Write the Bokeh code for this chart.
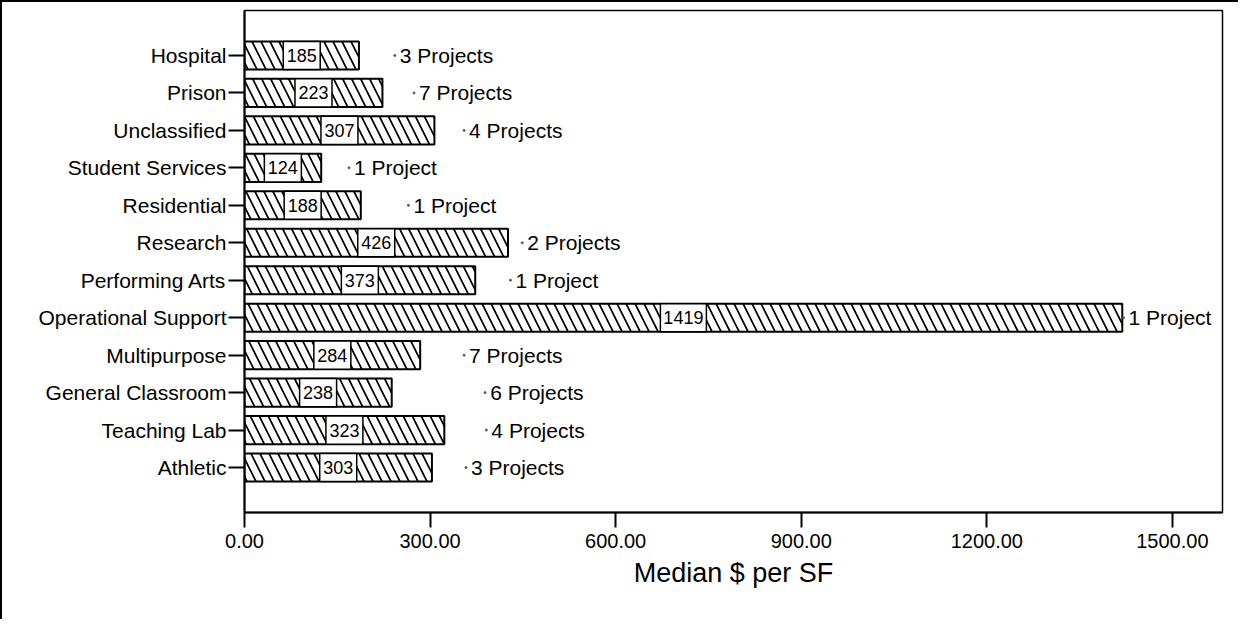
from bokeh.plotting import figure
from bokeh.models import Range1d, FixedTicker, NumeralTickFormatter, ColumnDataSource
from bokeh.core.properties import value
from bokeh.embed import file_html
from bokeh.resources import INLINE

# ---- data ----
categories = ["Athletic", "Teaching Lab", "General Classroom", "Multipurpose",
              "Operational Support", "Performing Arts", "Research", "Residential",
              "Student Services", "Unclassified", "Prison", "Hospital"]
median_per_sf = [303, 323, 238, 284, 1419, 373, 426, 188, 124, 307, 223, 185]
project_counts = [3, 4, 6, 7, 1, 1, 2, 1, 1, 4, 7, 3]
marker_values = [358, 391, 389, 355, 1421, 430, 449, 265, 169, 355, 274, 243]
x_ticks = [0, 300, 600, 900, 1200, 1500]

FONT = "Liberation Sans"

idx = list(range(len(categories)))
src = ColumnDataSource(dict(
    y=idx,
    v=median_per_sf,
    mid=[v / 2 for v in median_per_sf],
    vtxt=[str(v) for v in median_per_sf],
    boxw=[9 * len(str(v)) + 10 for v in median_per_sf],
    m=marker_values,
    ptxt=[f"{n} Project" + ("s" if n > 1 else "") for n in project_counts],
))

p = figure(width=1238, height=619, output_backend="svg", toolbar_location=None,
           x_range=Range1d(0, 1581), y_range=Range1d(-1.2, 12.2),
           min_border_left=242, min_border_top=8, min_border_right=18,
           min_border_bottom=109)
p.styles = {"border-top": "2px solid black", "border-left": "2px solid black"}
p.background_fill_color = "white"
p.border_fill_color = "white"
p.outline_line_color = "black"
p.outline_line_width = 1.5
p.xgrid.visible = False
p.ygrid.visible = False

p.hbar(y="y", left=0, right="v", height=0.75, source=src,
       fill_color="white", line_color="black", line_width=2,
       hatch_pattern="\\", hatch_color="black", hatch_scale=18, hatch_weight=1.7)

p.rect(x="mid", y="y", width="boxw", height=0.75, width_units="screen",
       source=src, fill_color="white", line_color="black", line_width=1.5)
p.text(x="mid", y="y", text="vtxt", source=src, text_align="center",
       text_baseline="middle", text_font=value(FONT), text_font_size="18px",
       text_color="black")

p.scatter(x="m", y="y", source=src, size=2, color="#555555")
p.text(x="m", y="y", text="ptxt", source=src, x_offset=5, text_align="left",
       text_baseline="middle", text_font=value(FONT), text_font_size="21px",
       text_color="black")

# x axis
xa = p.xaxis[0]
xa.ticker = FixedTicker(ticks=x_ticks)
xa.formatter = NumeralTickFormatter(format="0.00")
xa.minor_tick_line_color = None
xa.major_tick_in = 0
xa.major_tick_out = 15
xa.major_tick_line_width = 2
xa.axis_line_width = 2
xa.major_label_standoff = 6
xa.major_label_text_font = FONT
xa.major_label_text_font_size = "20px"
xa.major_label_text_color = "black"
xa.axis_label = "Median $ per SF"
xa.axis_label_text_font = FONT
xa.axis_label_text_font_size = "27px"
xa.axis_label_text_font_style = "normal"
xa.axis_label_text_color = "black"
xa.axis_label_standoff = 7

# y axis
ya = p.yaxis[0]
ya.ticker = FixedTicker(ticks=idx)
ya.major_label_overrides = {i: c for i, c in zip(idx, categories)}
ya.minor_tick_line_color = None
ya.major_tick_in = 0
ya.major_tick_out = 16
ya.major_tick_line_width = 2
ya.axis_line_width = 2
ya.major_label_standoff = 2
ya.major_label_text_font = FONT
ya.major_label_text_font_size = "21px"
ya.major_label_text_color = "black"

open("out.html", "w").write(file_html(p, INLINE))
